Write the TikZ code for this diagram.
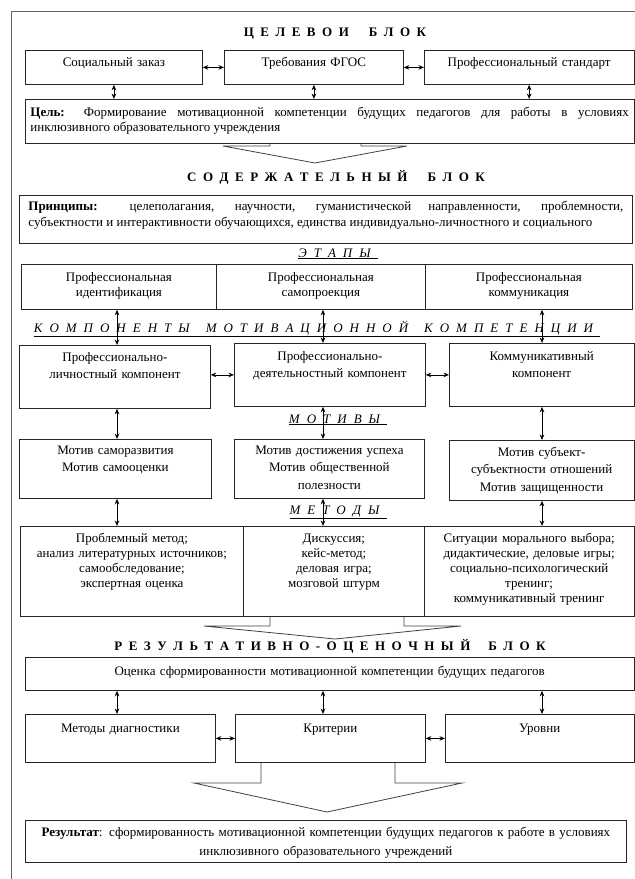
\documentclass[tikz,border=0pt]{standalone}
\usepackage{fontspec}
\setmainfont{Liberation Serif}
\usetikzlibrary{arrows.meta}
\hyphenpenalty=10000
\exhyphenpenalty=10000
\newcommand{\ttlgap}{\spaceskip=6.5pt\relax}
\newcommand{\subgap}{\spaceskip=7pt\relax}

\begin{document}
\begin{tikzpicture}[x=1pt, y=-1pt, >={Stealth[length=5.5pt,width=4.6pt]},
  every node/.style={font=\fontsize{13}{15}\selectfont},
  bx/.style={draw=black!85, line width=0.8pt, anchor=north west, align=center,
    inner xsep=4pt, inner ysep=0pt, text height=16pt},
  jbx/.style={bx, align=justify, inner xsep=5pt},
  wide/.style={font=\fontsize{13}{17.5}\selectfont},
  ttl/.style={anchor=base, font=\fontsize{13}{15}\selectfont\bfseries\ttlgap},
  sub/.style={anchor=base, font=\fontsize{13}{15}\selectfont\itshape\subgap},
  lnk/.style={<->, line width=0.8pt},
  fat/.style={draw=black!75, line width=0.8pt}]
\useasboundingbox (0,0) rectangle (635,879);
\draw[black!60, line width=1pt] (11,879) -- (11,11) -- (635,11);

\coordinate (ax1) at (117,0);
\coordinate (ax2) at (323,0);
\coordinate (ax3) at (542,0);

\node[ttl] (tgoal) at (335,36.5) {Ц Е Л Е В О И\hspace{20pt}Б Л О К};
\node[bx, text width=169pt, text depth=18pt] (t1) at (25,50) {Социальный заказ};
\node[bx, text width=171pt, text depth=18pt] (t2) at (224,50) {Требования ФГОС};
\node[bx, text width=201.5pt, text depth=18pt] (t3) at (424,50) {Профессиональный стандарт};
\node[jbx, text width=598.5pt, text height=17pt, text depth=27pt] (goal) at (25,99)
  {\textbf{Цель:} Формирование мотивационной компетенции будущих педагогов для работы в условиях\linebreak инклюзивного образовательного учреждения};
\draw[lnk] (t1) -- (t2);
\draw[lnk] (t2) -- (t3);
\draw[lnk] (t1.south) -- (t1.south |- goal.north);
\draw[lnk] (t2.south) -- (t2.south |- goal.north);
\draw[lnk] (t3.south) -- (t3.south |- goal.north);
\draw[fat] (270,143) -- (270,146) -- (223,146) -- (315,163) -- (407,146) -- (361,146) -- (361,143);

\node[ttl] (tcont) at (336,181) {С О Д Е Р Ж А Т Е Л Ь Н Ы Й\hspace{20pt}Б Л О К};
\node[jbx, inner xsep=9pt, text width=595pt, text height=15pt, text depth=33pt, font=\fontsize{13}{16}\selectfont] (prin) at (19,195)
  {\textbf{Принципы:} целеполагания, научности, гуманистической направленности, проблемности,\linebreak субъектности и интерактивности обучающихся, единства индивидуально-личностного и социального};

\node[sub] (hstage) at (338,257) {\underline{Э Т А П Ы\ }};
\node[bx, text width=187pt, text height=17pt, text depth=28pt] (st1) at (21,264) {Профессиональная\\идентификация};
\node[bx, text width=201pt, text height=17pt, text depth=28pt] (st2) at (216,264) {Профессиональная\\самопроекция};
\node[bx, text width=199pt, text height=17pt, text depth=28pt] (st3) at (425,264) {Профессиональная\\коммуникация};

\node[sub] (hcomp) at (317,332) {\underline{К О М П О Н Е Н Т Ы\hspace{16pt}М О Т И В А Ц И О Н Н О Й\hspace{16pt}К О М П Е Т Е Н Ц И И\ }};
\node[bx, wide, text width=183pt, text depth=47pt] (c1) at (19,345) {Профессионально-\\личностный компонент};
\node[bx, wide, text width=183pt, text height=17pt, text depth=46pt] (c2) at (234,343) {Профессионально-\\деятельностный компонент};
\node[bx, wide, text width=176.5pt, text height=17pt, text depth=46pt] (c3) at (449,343) {Коммуникативный\\компонент};
\draw[lnk] (ax1 |- st1.south) -- (ax1 |- c1.north);
\draw[lnk] (ax2 |- st2.south) -- (ax2 |- c2.north);
\draw[lnk] (ax3 |- st3.south) -- (ax3 |- c3.north);
\draw[lnk] (c2.west -| c1.east) -- (c2.west);
\draw[lnk] (c2.east) -- (c3.west);

\node[sub] (hmot) at (338,423) {\underline{М О Т И В Ы\ }};
\node[bx, wide, text width=184pt, text height=15pt, text depth=44pt] (m1) at (19,439) {Мотив саморазвития\\Мотив самооценки};
\node[bx, wide, text width=182pt, text height=15pt, text depth=44pt] (m2) at (234,439) {Мотив достижения успеха\\Мотив общественной\\полезности};
\node[bx, wide, text width=176.5pt, text height=16pt, text depth=44pt] (m3) at (449,440) {Мотив субъект-\\субъектности отношений\\Мотив защищенности};
\draw[lnk] (ax1 |- c1.south) -- (ax1 |- m1.north);
\draw[lnk] (ax2 |- c2.south) -- (ax2 |- m2.north);
\draw[lnk] (ax3 |- c3.south) -- (ax3 |- m3.north);

\node[sub] (hmeth) at (338,514) {\underline{М Е Т О Д Ы\ }};
\node[bx, text width=215pt, text depth=74pt] (me1) at (20,526) {Проблемный метод;\\анализ литературных источников;\\самообследование;\\экспертная оценка};
\node[bx, text width=173pt, text depth=74pt] (me2) at (243,526) {Дискуссия;\\кейс-метод;\\деловая игра;\\мозговой штурм};
\node[bx, text width=201.5pt, text depth=74pt] (me3) at (424,526) {Ситуации морального выбора;\\дидактические, деловые игры;\\социально-психологический\\тренинг;\\коммуникативный тренинг};
\draw[lnk] (ax1 |- m1.south) -- (ax1 |- me1.north);
\draw[lnk] (ax2 |- m2.south) -- (ax2 |- me2.north);
\draw[lnk] (ax3 |- m3.south) -- (ax3 |- me3.north);
\draw[fat] (270,616) -- (270,626) -- (204,626) -- (335,639) -- (461,626) -- (404,626) -- (404,616);

\node[ttl] (tres) at (330,650) {Р Е З У Л Ь Т А Т И В Н О - О Ц Е Н О Ч Н Ы Й\hspace{18pt}Б Л О К};
\node[bx, text width=600.5pt, text height=18pt, text depth=15pt] (ass) at (25,657) {Оценка сформированности мотивационной компетенции будущих педагогов};
\node[bx, text width=182pt, text height=18pt, text depth=30pt] (d1) at (25,714) {Методы диагностики};
\node[bx, text width=182pt, text height=18pt, text depth=30pt] (d2) at (235,714) {Критерии};
\node[bx, text width=180.5pt, text height=18pt, text depth=30pt] (d3) at (445,714) {Уровни};
\draw[lnk] (ax1 |- ass.south) -- (ax1 |- d1.north);
\draw[lnk] (ax2 |- ass.south) -- (ax2 |- d2.north);
\draw[lnk] (ax3 |- ass.south) -- (ax3 |- d3.north);
\draw[lnk] (d1) -- (d2);
\draw[lnk] (d2) -- (d3);
\draw[fat] (261,762) -- (261,783) -- (194,783) -- (327,812) -- (462,783) -- (395,783) -- (395,762);

\node[bx, text width=593pt, text depth=26pt, font=\fontsize{13}{19}\selectfont] (res) at (25,820)
  {\textbf{Результат}: сформированность мотивационной компетенции будущих педагогов к работе в условиях\\инклюзивного образовательного учреждений};
\end{tikzpicture}
\end{document}
